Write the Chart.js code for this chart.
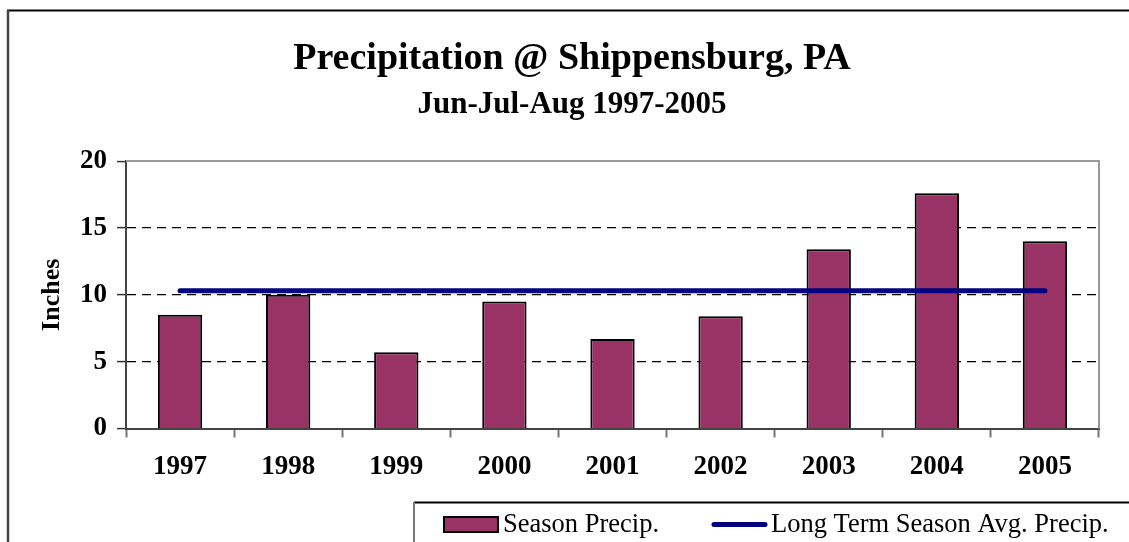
<!DOCTYPE html>
<html>
<head>
<meta charset="utf-8">
<script src="https://cdn.jsdelivr.net/npm/chart.js@4/dist/chart.umd.min.js"></script>
<style>
  html, body { margin: 0; padding: 0; background: #fff; }
  #wrap { width: 1129px; height: 542px; }
</style>
</head>
<body>
<div id="wrap"><canvas id="chart" width="1129" height="542"></canvas></div>
<script>
// values
const years = ['1997', '1998', '1999', '2000', '2001', '2002', '2003', '2004', '2005'];
const seasonPrecip = [8.5, 10.0, 5.7, 9.5, 6.7, 8.4, 13.4, 17.6, 14.0];
const longTermAvg = [10.3, 10.3, 10.3, 10.3, 10.3, 10.3, 10.3, 10.3, 10.3];
const yTicks = [0, 5, 10, 15, 20];

const serif = "'Liberation Serif', 'Times New Roman', serif";

// page frame, plot border and the boxed legend like the original
const framePlugin = {
  id: 'frame',
  beforeDraw(chart) {
    const ctx = chart.ctx;
    ctx.save();
    ctx.fillStyle = '#fff';
    ctx.fillRect(0, 0, chart.width, chart.height);
    ctx.strokeStyle = '#000';
    ctx.lineWidth = 2;
    ctx.beginPath();
    ctx.moveTo(7, 10.5);
    ctx.lineTo(chart.width, 10.5);
    ctx.stroke();
    ctx.strokeStyle = '#444';
    ctx.lineWidth = 2.5;
    ctx.beginPath();
    ctx.moveTo(8, 10);
    ctx.lineTo(8, chart.height);
    ctx.stroke();
    ctx.restore();
  },
  beforeDatasetsDraw(chart) {
    const a = chart.chartArea;
    const ctx = chart.ctx;
    ctx.save();
    ctx.strokeStyle = '#999';
    ctx.lineWidth = 2;
    ctx.beginPath();
    ctx.moveTo(a.left, a.top);
    ctx.lineTo(a.right, a.top);
    ctx.lineTo(a.right, a.bottom);
    ctx.stroke();
    ctx.restore();
  },
  afterDraw(chart) {
    const ctx = chart.ctx;
    const bars = chart.data.datasets.find(d => d.type === 'bar');
    const line = chart.data.datasets.find(d => d.type === 'line');
    ctx.save();
    // box
    ctx.strokeStyle = '#000';
    ctx.lineWidth = 2;
    ctx.beginPath();
    ctx.moveTo(414, 502.5);
    ctx.lineTo(chart.width, 502.5);
    ctx.stroke();
    ctx.strokeStyle = '#777';
    ctx.beginPath();
    ctx.moveTo(414, 502);
    ctx.lineTo(414, chart.height);
    ctx.stroke();
    // bar swatch
    ctx.fillStyle = bars.backgroundColor;
    ctx.fillRect(444, 517, 54, 15);
    ctx.strokeStyle = '#000';
    ctx.lineWidth = 2;
    ctx.strokeRect(444, 517, 54, 15);
    // line swatch
    ctx.strokeStyle = line.borderColor;
    ctx.lineWidth = 5;
    ctx.lineCap = 'round';
    ctx.beginPath();
    ctx.moveTo(714, 524.5);
    ctx.lineTo(765, 524.5);
    ctx.stroke();
    ctx.fillStyle = '#000';
    ctx.font = '26.5px ' + serif;
    ctx.textBaseline = 'middle';
    ctx.fillText(bars.label, 503, 525);
    ctx.fillText(line.label, 771, 525);
    ctx.restore();
  }
};

new Chart(document.getElementById('chart'), {
  data: {
    labels: years,
    datasets: [
      {
        type: 'line',
        label: 'Long Term Season Avg. Precip.',
        data: longTermAvg,
        borderColor: '#000080',
        borderWidth: 5,
        borderCapStyle: 'round',
        pointRadius: 0,
        fill: false,
        order: 0
      },
      {
        type: 'bar',
        label: 'Season Precip.',
        data: seasonPrecip,
        backgroundColor: '#993366',
        borderColor: '#000',
        borderWidth: 2,
        barPercentage: 0.41,
        categoryPercentage: 1.0,
        order: 1
      }
    ]
  },
  options: {
    responsive: false,
    animation: false,
    layout: { padding: { left: 45, right: 30, top: 10, bottom: 0 } },
    plugins: {
      legend: { display: false },
      tooltip: { enabled: false },
      title: {
        display: true,
        text: 'Precipitation @ Shippensburg, PA',
        color: '#000',
        font: { family: serif, size: 38, weight: 'bold' },
        padding: { top: 26, bottom: 0 }
      },
      subtitle: {
        display: true,
        text: 'Jun-Jul-Aug 1997-2005',
        color: '#000',
        font: { family: serif, size: 31, weight: 'bold' },
        padding: { top: 4.8, bottom: 37.5 }
      }
    },
    scales: {
      x: {
        grid: {
          offset: true,
          drawOnChartArea: false,
          drawTicks: true,
          tickLength: 9,
          tickColor: '#777',
          tickWidth: 2
        },
        border: { color: '#444', width: 2 },
        ticks: {
          color: '#000',
          font: { family: serif, size: 27, weight: 'bold' },
          padding: 13,
          maxRotation: 0,
          autoSkip: false
        },
        afterFit(scale) { scale.height = 113.5; }
      },
      y: {
        min: 0,
        max: 20,
        afterBuildTicks(scale) { scale.ticks = yTicks.map(v => ({ value: v })); },
        grid: {
          color: ctx => (ctx.tick && (ctx.tick.value === 0 || ctx.tick.value === 20)) ? 'rgba(0,0,0,0)' : '#000',
          lineWidth: 1.2,
          tickColor: '#333',
          tickLength: 9,
          tickWidth: 1.5
        },
        border: { color: '#444', width: 2, dash: [9, 6] },
        ticks: {
          color: '#000',
          font: { family: serif, size: 27, weight: 'bold' },
          padding: 10
        },
        title: {
          display: true,
          text: 'Inches',
          color: '#000',
          font: { family: serif, size: 26, weight: 'bold', lineHeight: 0.5 },
          padding: { top: 0.5, bottom: 0 }
        },
        afterFit(scale) { scale.width = 81; }
      }
    }
  },
  plugins: [framePlugin]
});
</script>
</body>
</html>
